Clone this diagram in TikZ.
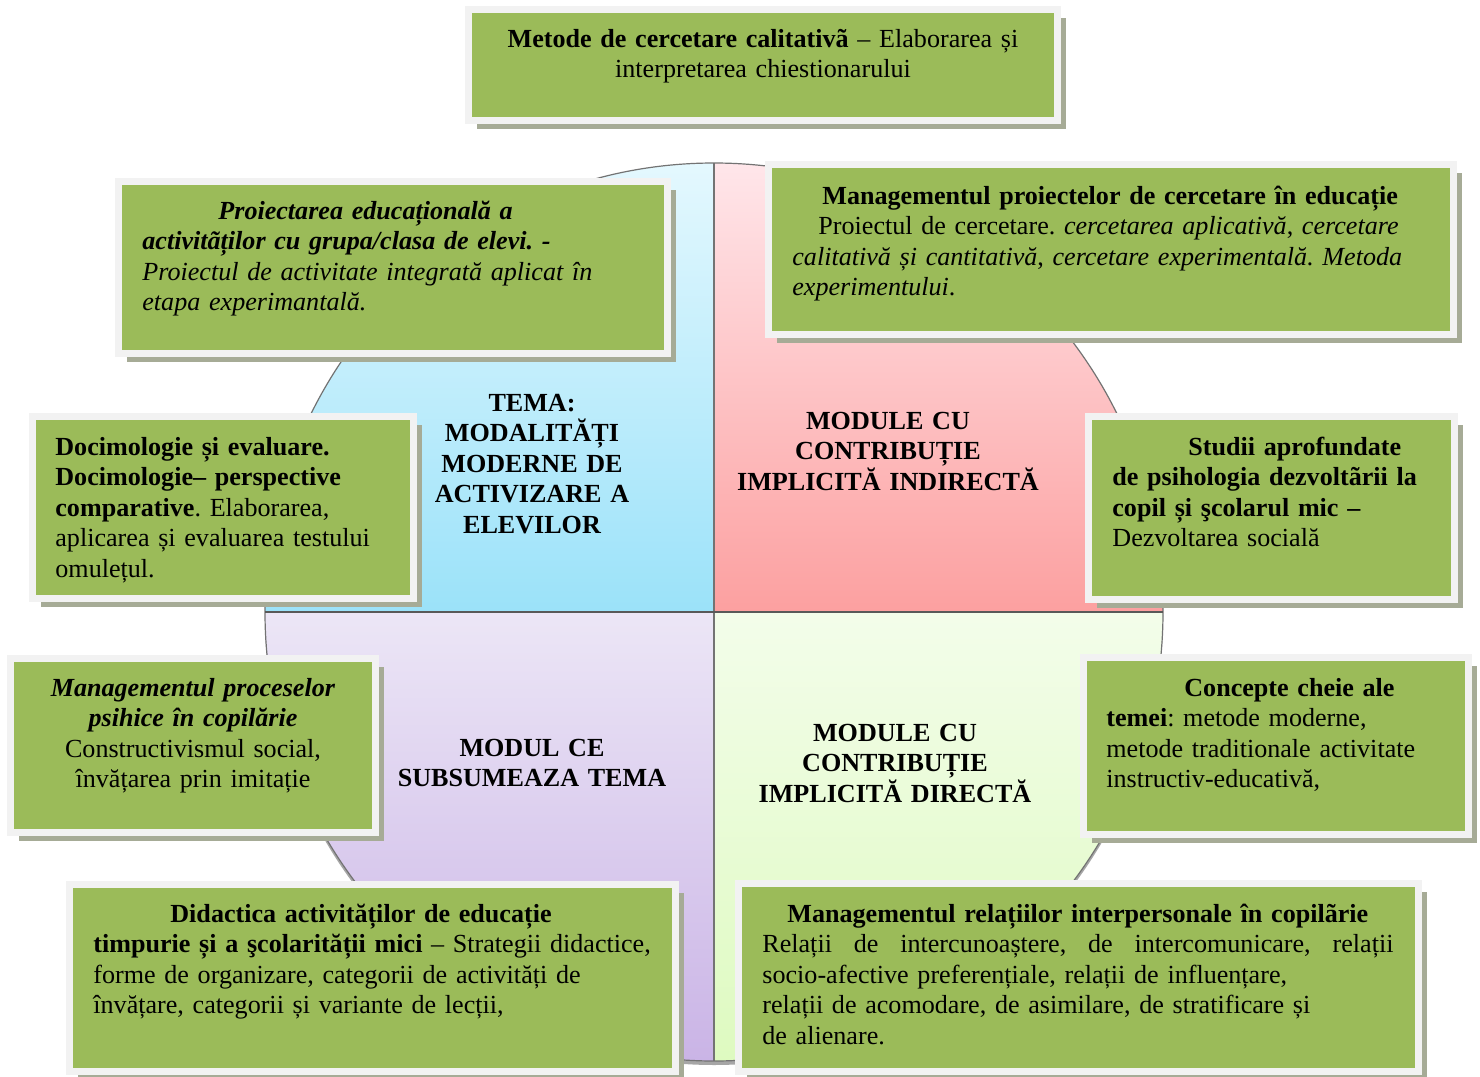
\documentclass[tikz,border=0pt]{standalone}
\usepackage{fontspec}
\setmainfont{Liberation Serif}
\usepackage{xcolor}
\usepackage{tikz}
\usetikzlibrary{shadows,fit}
\frenchspacing

\definecolor{boxgreen}{RGB}{155,187,89}
\definecolor{framegray}{RGB}{242,242,242}
\definecolor{shadowgray}{RGB}{166,171,150}
\definecolor{tltop}{RGB}{228,248,254}
\definecolor{tlbot}{RGB}{155,226,249}
\definecolor{trtop}{RGB}{255,230,234}
\definecolor{trbot}{RGB}{252,160,160}
\definecolor{bltop}{RGB}{236,230,246}
\definecolor{blbot}{RGB}{202,180,230}
\definecolor{brtop}{RGB}{243,253,234}
\definecolor{brbot}{RGB}{222,250,192}

\begin{document}
\begin{tikzpicture}[
  x=0.5pt,y=-0.5pt,
  gbox/.style={fill=boxgreen,draw=framegray,line width=3.5pt,inner sep=0pt,
    drop shadow={shadow xshift=4pt,shadow yshift=-4pt,fill=shadowgray,opacity=1}},
  btext/.style={inner sep=0pt,text width=#1,align=left,anchor=base west,
    font=\fontsize{13.05}{15.3}\selectfont},
  ctext/.style={inner sep=0pt,text width=#1,align=center,anchor=base,
    font=\fontsize{13.05}{15.3}\selectfont},
  qtext/.style={inner sep=0pt,text width=120pt,align=center,anchor=base,
    font=\fontsize{13.05}{15.3}\selectfont\bfseries},
]
\fill[white] (0,0) rectangle (1480,1077);
\useasboundingbox (0,0) rectangle (1480,1077);

% cercul central
\coordinate (c) at (714,612);
\fill[black!35] (714,616) circle[radius=449];
\begin{scope}
  \clip (c) circle[radius=449];
  \shade[top color=tltop,bottom color=tlbot] (265,163) rectangle (714,612);
  \shade[top color=trtop,bottom color=trbot] (714,163) rectangle (1163,612);
  \shade[top color=bltop,bottom color=blbot] (265,612) rectangle (714,1061);
  \shade[top color=brtop,bottom color=brbot] (714,612) rectangle (1163,1061);
\end{scope}
\draw[black!55,line width=0.6pt] (c) circle[radius=449];
\draw[black!55,line width=0.6pt] (714,163) -- (714,1061);
\draw[black!65,line width=0.8pt] (265,612) -- (1163,612);

\node[qtext] (tema) at (532,411) {TEMA:\\MODALITĂȚI\\MODERNE DE\\ACTIVIZARE A\\ELEVILOR};
\node[qtext,text width=160pt] (indir) at (888,429) {MODULE CU\\CONTRIBUȚIE\\IMPLICITĂ INDIRECTĂ};
\node[qtext,text width=160pt] (subs) at (532,756) {MODUL CE\\SUBSUMEAZA TEMA};
\node[qtext,text width=160pt] (dir) at (895,741) {MODULE CU\\CONTRIBUȚIE\\IMPLICITĂ DIRECTĂ};

% casetele verzi
\node[gbox,fit={(468.5,9.5) (1057.5,120.5)}] (b1) {};
\node[ctext=300pt] (t1) at (763,47) {\textbf{Metode de cercetare calitativã} – Elaborarea și\\interpretarea chiestionarului};

\node[gbox,fit={(118.5,181.5) (667.5,353.5)}] (b2) {};
\node[btext=260pt] (t2) at (142,219) {\bfseries\itshape\hspace*{38pt}Proiectarea educațională a\\activitãților cu grupa/clasa de elevi. -\\\mdseries Proiectul de activitate integrată aplicat în\\etapa experimantală.};

\node[gbox,fit={(768.5,164.5) (1453.5,334.5)}] (b3) {};
\node[btext=330pt] (t3) at (792,204) {\hspace*{15pt}\textbf{Managementul proiectelor de cercetare în educație}\\\hspace*{13pt}Proiectul de cercetare. \textit{cercetarea aplicativă}, \textit{cercetare}\\\textit{calitativă și cantitativă}, \textit{cercetare experimentală. Metoda}\\\textit{experimentului}.};

\node[gbox,fit={(32.5,416.5) (413.5,598.5)}] (b4) {};
\node[btext=180pt] (t4) at (55,455) {\textbf{Docimologie și evaluare.}\\\textbf{Docimologie– perspective}\\\textbf{comparative}. Elaborarea,\\aplicarea și evaluarea testului\\omulețul.};

\node[gbox,fit={(1088.5,416.5) (1454.5,599.5)}] (b5) {};
\node[btext=170pt] (t5) at (1112,455) {\textbf{\hspace*{38pt}Studii aprofundate}\\\textbf{de psihologia dezvoltãrii la}\\\textbf{copil și şcolarul mic –}\\Dezvoltarea socială};

\node[gbox,fit={(10.5,658.5) (375.5,832.5)}] (b6) {};
\node[ctext=170pt] (t6) at (193,696) {\textbf{\textit{Managementul proceselor}}\\\textbf{\textit{psihice în copilărie}}\\Constructivismul social,\\învățarea prin imitație};

\node[gbox,fit={(1083.5,657.5) (1468.5,834.5)}] (b7) {};
\node[btext=170pt] (t7) at (1106,696) {\textbf{\hspace*{39pt}Concepte cheie ale}\\\textbf{temei}: metode moderne,\\metode traditionale activitate\\instructiv-educativă,};

\node[gbox,fit={(69.5,884.5) (675.5,1071.5)}] (b8) {};
\node[btext=290pt] (t8) at (93,922) {\textbf{\hspace*{38.5pt}Didactica activităților de educație}\\\textbf{timpurie și a şcolarității mici} – Strategii didactice,\\forme de organizare, categorii de activități de\\învățare, categorii și variante de lecții,};

\node[gbox,fit={(738.5,883.5) (1418.5,1071.5)}] (b9) {};
\node[btext=330pt] (t9) at (762,922) {\hspace*{12.5pt}\textbf{Managementul relațiilor interpersonale în copilãrie}\\\leavevmode\hbox to 315.5pt{Relații\hfill de\hfill intercunoaștere,\hfill de\hfill intercomunicare,\hfill relații}\\socio-afective preferențiale, relații de influențare,\\relații de acomodare, de asimilare, de stratificare și\\de alienare.};
\end{tikzpicture}
\end{document}
